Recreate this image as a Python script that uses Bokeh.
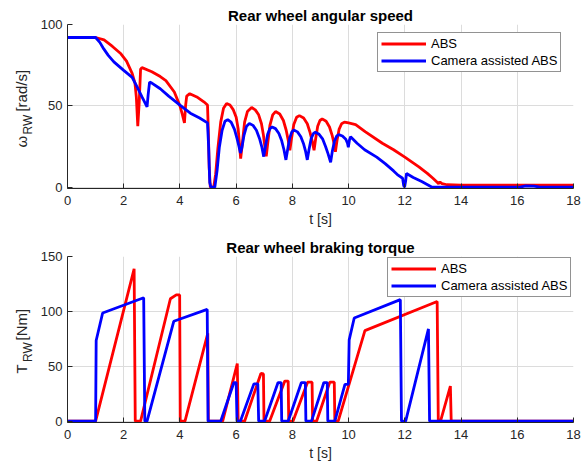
import math
from bokeh.plotting import figure
from bokeh.models import Range1d, FixedTicker
from bokeh.layouts import column, row
from bokeh.core.properties import value
from bokeh.embed import file_html
from bokeh.resources import INLINE

# ---------------- data ----------------
x_ticks = [0, 2, 4, 6, 8, 10, 12, 14, 16, 18]
speed_ticks = [0, 50, 100]
torque_ticks = [0, 50, 100, 150]
series_names = ["ABS", "Camera assisted ABS"]

# Rear wheel angular speed, ABS
t_speed_abs = [0, 1.0, 1.3, 1.6, 1.9, 2.1, 2.3, 2.4, 2.45, 2.5, 2.55, 2.6, 2.65, 3.0, 3.3, 3.5, 3.8, 4.0,
               4.08, 4.16, 4.2, 4.24, 4.35, 4.6, 4.85, 4.98, 5.01, 5.04, 5.08, 5.2, 5.27, 5.35, 5.45, 5.55,
               5.66, 5.78, 5.9, 6.0, 6.07, 6.12, 6.16, 6.22, 6.3, 6.4, 6.55, 6.68, 6.8, 6.9, 6.97, 7.02,
               7.07, 7.13, 7.2, 7.3, 7.4, 7.55, 7.68, 7.78, 7.85, 7.91, 7.97, 8.05, 8.15, 8.25, 8.4, 8.53,
               8.63, 8.71, 8.77, 8.83, 8.9, 8.98, 9.06, 9.2, 9.32, 9.42, 9.48, 9.53, 9.59, 9.66, 9.75,
               9.85, 10.0, 10.25, 10.6, 11.2, 11.6, 12.0, 12.5, 12.8, 13.0, 13.15, 13.2, 13.25, 13.32,
               13.5, 14.0, 18.0]
w_abs = [92, 92, 90.5, 86.5, 82, 77.5, 70, 64, 55, 37.5, 52, 72.5, 73.5, 71, 68, 65.5, 58.5, 50,
         45, 39.5, 50, 56, 57.5, 55.5, 52.5, 50.5, 35, 12, 0, 0, 8, 24, 40, 48.5,
         51.5, 50.5, 47.5, 43, 36, 26, 17.6, 27, 40, 46.5, 49, 47.5, 44.5, 39, 32, 25,
         19, 28, 38, 44.5, 46.5, 45, 41, 35, 29, 22.7, 30, 38.5, 43, 44, 42.5, 39,
         33.5, 28, 22.7, 30, 37.5, 41, 42, 40.5, 37, 31.5, 27, 21.7, 29, 35.5, 39,
         40, 39.5, 38.5, 34, 27, 23, 18.5, 12.5, 8.5, 5.5, 3, 2.2, 3.2, 2.2,
         1.5, 1.2, 1.2]

# Rear wheel angular speed, camera assisted ABS
t_speed_cam = [0, 1.0, 1.15, 1.29, 1.45, 1.65, 2.0, 2.3, 2.48, 2.65, 2.83, 2.87, 2.92, 3.0, 3.3, 3.6,
               4.0, 4.37, 4.7, 4.98, 5.02, 5.06, 5.1, 5.24, 5.32, 5.4, 5.5, 5.6, 5.7, 5.82, 5.94, 6.03,
               6.1, 6.15, 6.2, 6.28, 6.37, 6.47, 6.6, 6.72, 6.83, 6.91, 6.98, 7.04, 7.12, 7.2, 7.28,
               7.4, 7.52, 7.62, 7.7, 7.77, 7.83, 7.9, 7.98, 8.05, 8.18, 8.3, 8.4, 8.47, 8.53, 8.59,
               8.67, 8.75, 8.82, 8.95, 9.08, 9.18, 9.27, 9.36, 9.42, 9.5, 9.58, 9.65, 9.78, 9.9, 9.96,
               9.99, 10.03, 10.07, 10.3, 10.57, 11.0, 11.3, 11.6, 11.76, 11.92, 11.96, 11.99, 12.03,
               12.06, 12.3, 12.6, 12.97, 16.1, 16.3, 16.6, 16.8, 18.0]
w_cam = [92, 92, 89, 85, 81, 77, 71.8, 67.5, 61.5, 55.5, 49.3, 57, 64.6, 64, 60.5, 56,
         50.5, 45.5, 42.5, 39.5, 25, 3, 0, 0, 10, 24.4, 35, 40.5, 41.5, 40, 35.5, 30,
         25, 21, 24, 32, 37.5, 39.2, 38, 35, 30, 25, 18.8, 25, 32.5, 36, 37,
         36, 33, 28.5, 23, 16.8, 23, 30, 34, 35.2, 34, 31, 26.5, 22, 16.8, 23,
         30, 33, 33.8, 32.5, 29.5, 25, 20.5, 15.3, 22, 28.5, 31.5, 32.3, 31.5, 29.5, 27,
         24.5, 29, 31, 27, 23, 18.5, 14.5, 10, 7.4, 5.5, 1, 0, 4,
         8.4, 6, 3.5, 0, 0, 0.8, 0.6, 0, 0]

# Rear wheel braking torque, ABS
t_torque_abs = [0, 1.0, 2.37, 2.41, 2.6, 3.66, 3.87, 3.99, 4.01, 4.18, 4.99, 5.01, 5.52, 6.04, 6.07,
                6.3, 6.88, 6.97, 6.99, 7.19, 7.73, 7.85, 7.87, 8.02, 8.54, 8.7, 8.72, 8.86, 9.33, 9.49,
                9.51, 9.63, 10.58, 13.15, 13.19, 13.27, 13.62, 13.65, 18.0]
T_abs = [0, 0, 138.8, 0, 0, 111.5, 115, 115, 0, 0, 80, 0, 0, 52.5, 0,
         0, 43.5, 43, 0, 0, 36.5, 36.5, 0, 0, 35.5, 35.5, 0, 0, 35.5, 35.5,
         0, 0, 82.5, 109, 0, 0, 32, 0, 0]

# Rear wheel braking torque, camera assisted ABS
t_torque_cam = [0, 1.0, 1.02, 1.25, 2.71, 2.75, 2.83, 3.78, 4.97, 5.0, 5.45, 5.92, 6.0, 6.03, 6.15,
                6.63, 6.77, 6.8, 7.01, 7.49, 7.6, 7.62, 7.85, 8.32, 8.46, 8.48, 8.68, 9.12, 9.24, 9.26,
                9.51, 9.87, 9.99, 10.02, 10.2, 11.84, 11.88, 12.03, 12.84, 12.88, 18.0]
T_cam = [0, 0, 73.5, 98.5, 112.4, 0, 0, 91, 101.8, 0, 0, 35.2, 35.2, 0, 0,
         34, 34, 0, 0, 35.2, 35.2, 0, 0, 35.2, 35.2, 0, 0, 35.2, 35.2, 0,
         0, 33.6, 33.6, 74, 94, 110.7, 0, 0, 84, 0, 0]

FONT = "Liberation Sans"
AX = "#262626"
RED = "#ff0000"
BLUE = "#0000ff"
LAB_W = 36
FIG_H = 232
LW = 2.8


def make_fig(title, y_range, frame_h, yticks, bottom_border):
    p = figure(frame_width=506, frame_height=frame_h, output_backend="svg",
               toolbar_location=None, x_range=Range1d(0, 18), y_range=y_range,
               min_border_left=67 - LAB_W, min_border_right=12, min_border_top=24,
               min_border_bottom=bottom_border)
    p.title.text = title
    p.title.text_font = FONT
    p.title.text_font_size = "15px"
    p.title.text_font_style = "bold"
    p.title.text_color = "#000000"
    p.title.align = "center"
    p.title.standoff = 2
    p.outline_line_color = None
    p.background_fill_color = "white"
    p.border_fill_color = "white"
    p.xaxis.ticker = FixedTicker(ticks=x_ticks)
    p.yaxis.ticker = FixedTicker(ticks=yticks)
    for ax in (p.xaxis[0], p.yaxis[0]):
        ax.major_tick_in = 5
        ax.major_tick_out = 0
        ax.minor_tick_in = 0
        ax.minor_tick_out = 0
        ax.axis_line_color = AX
        ax.major_tick_line_color = AX
        ax.major_label_text_font = FONT
        ax.major_label_text_font_size = "13px"
        ax.major_label_text_color = AX
        ax.axis_label_text_font = FONT
        ax.axis_label_text_font_size = "14px"
        ax.axis_label_text_font_style = "normal"
        ax.axis_label_text_color = AX
    p.xaxis.axis_label = "t [s]"
    p.xaxis.major_label_standoff = 7
    p.xaxis.axis_label_standoff = 3
    p.yaxis.major_label_standoff = 5
    p.grid.grid_line_color = "#dcdcdc"
    p.grid.grid_line_width = 1
    return p


def style_legend(p, loc):
    lg = p.legend[0]
    lg.location = loc
    lg.label_text_font = FONT
    lg.label_text_font_size = "13px"
    lg.label_text_color = "#000000"
    lg.glyph_width = 45
    lg.glyph_height = 15
    lg.label_height = 15
    lg.spacing = 2
    lg.padding = 3
    lg.margin = 0
    lg.label_standoff = 5
    lg.border_line_color = AX
    lg.border_line_width = 1
    lg.background_fill_alpha = 1.0


def label_fig(y_range, parts):
    # rotated y-axis title with subscript; shares the y scale of its plot
    # parts: (text, font size, x centre in px, start position on the plot's y scale)
    f = figure(width=LAB_W, height=FIG_H, x_range=Range1d(0, LAB_W), y_range=y_range,
               output_backend="svg", toolbar_location=None, min_border=0,
               x_axis_type=None, y_axis_type=None)
    f.grid.visible = False
    f.outline_line_color = None
    for text, size, x, y in parts:
        f.text(x=[x], y=[y], text=[text], angle=math.pi / 2, text_align="left",
               text_baseline="middle", text_font=value(FONT), text_font_size=value(size),
               text_color=AX)
    return f


# ---------- top: angular speed ----------
yr1 = Range1d(-0.8, 100)
p1 = make_fig("Rear wheel angular speed", yr1, 164, speed_ticks, FIG_H - 24 - 164)
p1.line(t_speed_abs, w_abs, line_color=RED, line_width=LW, legend_label=series_names[0])
p1.line(t_speed_cam, w_cam, line_color=BLUE, line_width=LW, legend_label=series_names[1])
style_legend(p1, (310, 116))

# ---------- bottom: braking torque ----------
yr2 = Range1d(-1.2, 150)
p2 = make_fig("Rear wheel braking torque", yr2, 166, torque_ticks, FIG_H - 24 - 166)
p2.line(t_torque_abs, T_abs, line_color=RED, line_width=LW, legend_label=series_names[0])
p2.line(t_torque_cam, T_cam, line_color=BLUE, line_width=LW, legend_label=series_names[1])
style_legend(p2, (320, 125))

lab1 = label_fig(yr1, [("ω", "15px", 21, 24.4), ("RW", "12px", 27, 32.4), ("[rad/s]", "15px", 21, 46.5)])
lab2 = label_fig(yr2, [("T", "15px", 21, 43.4), ("RW", "12px", 27, 54.0), ("[Nm]", "15px", 21, 73.5)])

layout = column(row(lab1, p1, spacing=0), row(lab2, p2, spacing=0), spacing=0)
open("out.html", "w").write(file_html(layout, INLINE))
